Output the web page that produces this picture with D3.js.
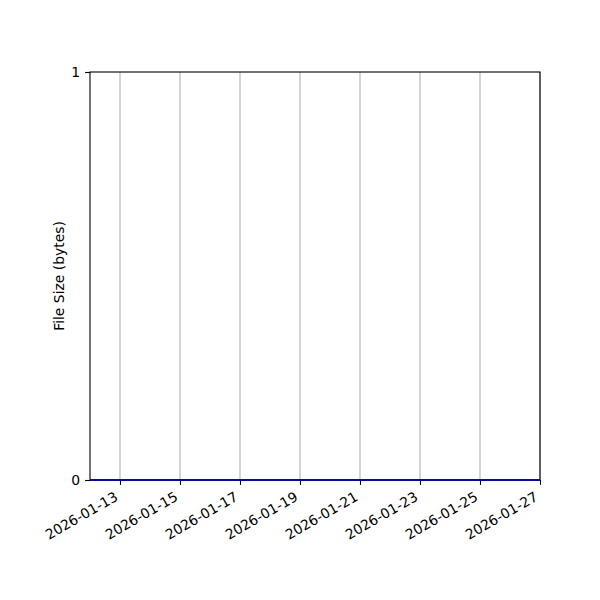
<!DOCTYPE html>
<html>
<head>
<meta charset="utf-8">
<script src="https://cdn.jsdelivr.net/npm/d3@7"></script>
<style>
  body { margin: 0; background: #fff; }
  text { font-family: "DejaVu Sans", sans-serif; }
</style>
</head>
<body>
<div id="chart"></div>
<script>
// data: file size per day (all zero)
const dates = [
  "2026-01-12", "2026-01-13", "2026-01-14", "2026-01-15", "2026-01-16",
  "2026-01-17", "2026-01-18", "2026-01-19", "2026-01-20", "2026-01-21",
  "2026-01-22", "2026-01-23", "2026-01-24", "2026-01-25", "2026-01-26",
  "2026-01-27"
];
const sizes = [0, 0, 0, 0, 0, 0, 0, 0, 0, 0, 0, 0, 0, 0, 0, 0];
const tickDates = [
  "2026-01-13", "2026-01-15", "2026-01-17", "2026-01-19",
  "2026-01-21", "2026-01-23", "2026-01-25", "2026-01-27"
];
const yTicks = [0, 1];

const width = 600;
const height = 600;
const margin = { top: 72, right: 60, bottom: 120, left: 90 };
const fontSize = 13.9;

const parse = d3.utcParse("%Y-%m-%d");
const points = dates.map((d, i) => ({ date: parse(d), size: sizes[i] }));

const svg = d3.select("#chart")
  .append("svg")
  .attr("width", width)
  .attr("height", height);

const x = d3.scaleUtc()
  .domain([parse("2026-01-12"), parse("2026-01-27")])
  .range([margin.left, width - margin.right]);

const y = d3.scaleLinear()
  .domain([0, 1])
  .range([height - margin.bottom, margin.top]);

// vertical grid lines
svg.append("g")
  .selectAll("line")
  .data(tickDates.map(parse))
  .join("line")
  .attr("x1", (d) => x(d))
  .attr("x2", (d) => x(d))
  .attr("y1", margin.top)
  .attr("y2", height - margin.bottom)
  .attr("stroke", "#b0b0b0")
  .attr("stroke-width", 1.1);

// x axis
const xAxis = svg.append("g")
  .attr("transform", `translate(0,${height - margin.bottom})`)
  .call(
    d3.axisBottom(x)
      .tickValues(tickDates.map(parse))
      .tickFormat(d3.utcFormat("%Y-%m-%d"))
      .tickSize(4.9)
      .tickSizeOuter(0)
  );
xAxis.select(".domain").remove();
xAxis.selectAll(".tick line").attr("stroke", "#000").attr("stroke-width", 1.1);

// rotated labels, right edge of their box at the tick
const asc = 0.76 * fontSize;
const desc = 0.24 * fontSize;
xAxis.selectAll(".tick text")
  .attr("font-size", fontSize)
  .attr("fill", "#000")
  .attr("text-anchor", "end")
  .attr("dy", null)
  .attr("y", null)
  .attr("transform", `translate(${-0.5 * desc},${4.9 + 5.5 + 0.866 * asc}) rotate(-30)`);

// y axis
const yAxis = svg.append("g")
  .attr("transform", `translate(${margin.left},0)`)
  .call(
    d3.axisLeft(y)
      .tickValues(yTicks)
      .tickFormat(d3.format("d"))
      .tickSize(4.9)
      .tickSizeOuter(0)
  );
yAxis.select(".domain").remove();
yAxis.selectAll(".tick line").attr("stroke", "#000").attr("stroke-width", 1.1);
yAxis.selectAll(".tick text")
  .attr("font-size", fontSize)
  .attr("fill", "#000")
  .attr("x", -9.8);

// frame
svg.append("rect")
  .attr("x", margin.left)
  .attr("y", margin.top)
  .attr("width", width - margin.left - margin.right)
  .attr("height", height - margin.top - margin.bottom)
  .attr("fill", "none")
  .attr("stroke", "#000")
  .attr("stroke-width", 1.1);

// data line
svg.append("path")
  .datum(points)
  .attr("fill", "none")
  .attr("stroke", "#0a0aa0")
  .attr("stroke-width", 2)
  .attr("d", d3.line().x((d) => x(d.date)).y((d) => y(d.size)));

// y label
svg.append("text")
  .attr("transform", `translate(64,${(margin.top + height - margin.bottom) / 2}) rotate(-90)`)
  .attr("text-anchor", "middle")
  .attr("font-size", fontSize)
  .attr("fill", "#000")
  .text("File Size (bytes)");
</script>
</body>
</html>
